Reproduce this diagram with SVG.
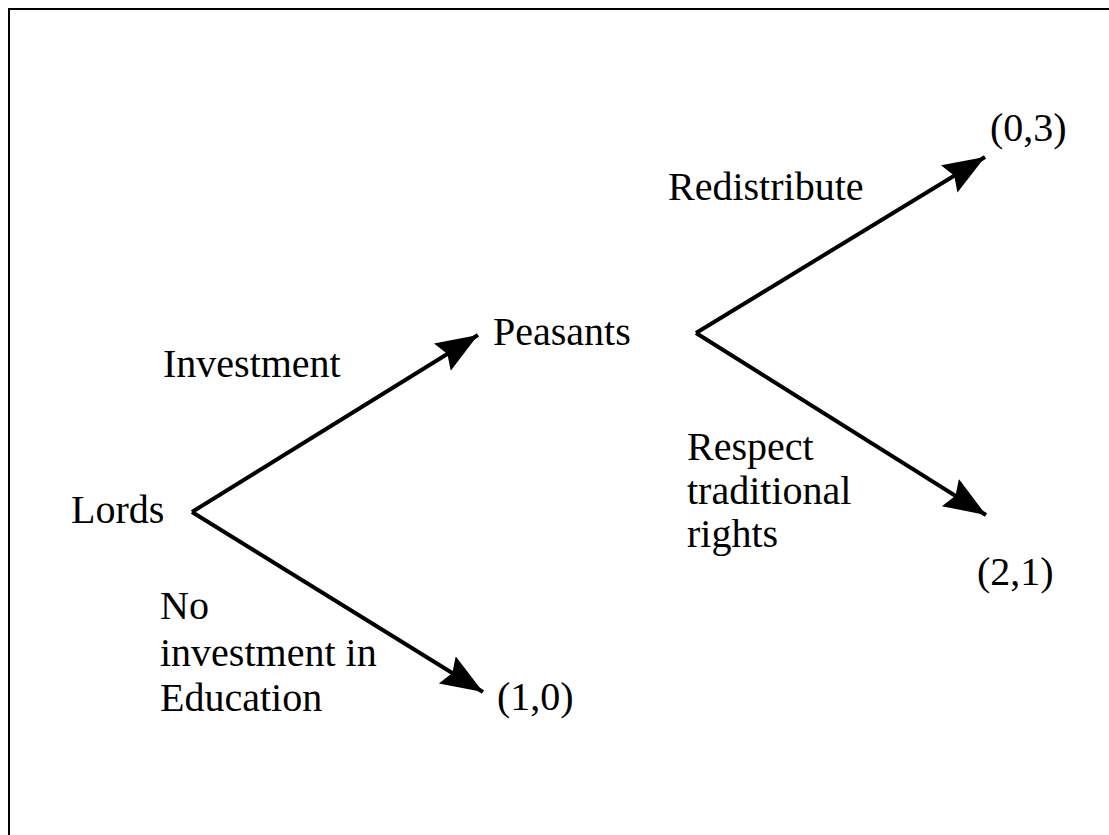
<svg xmlns="http://www.w3.org/2000/svg" width="1109" height="835" viewBox="0 0 1109 835">
<style>
.e{stroke:#000;stroke-width:4;fill:none}
</style>
<defs>
<marker id="ah" markerUnits="userSpaceOnUse" markerWidth="46" markerHeight="34" refX="42" refY="16" orient="auto">
<path d="M0,0 L42,16 L0,32 L6,16 Z" fill="#000"/>
</marker>
</defs>
<rect x="0" y="0" width="1109" height="835" fill="#fff"/>
<path d="M9,835 L9,9 L1109,9" stroke="#000" stroke-width="2" fill="none"/>
<g id="connectors">
<line class="e" x1="192" y1="512" x2="478" y2="335" marker-end="url(#ah)"/>
<line class="e" x1="192" y1="512" x2="483" y2="692" marker-end="url(#ah)"/>
<line class="e" x1="696" y1="333" x2="985" y2="157" marker-end="url(#ah)"/>
<line class="e" x1="696" y1="333" x2="986" y2="515" marker-end="url(#ah)"/>
</g>
<g font-family="'Liberation Serif', 'Times New Roman', serif" font-size="40" fill="#000">
<g id="lords"><text x="71" y="523">Lords</text></g>
<g id="peasants"><text x="493" y="345">Peasants</text></g>
<g id="payoff-10"><text x="497" y="710">(1,0)</text></g>
<g id="payoff-03"><text x="990" y="141">(0,3)</text></g>
<g id="payoff-21"><text x="977" y="585">(2,1)</text></g>
<g id="labels">
<text x="163" y="377">Investment</text>
<text x="160" y="619">No</text>
<text x="160" y="666">investment in</text>
<text x="160" y="711">Education</text>
<text x="668" y="200">Redistribute</text>
<text x="687" y="460">Respect</text>
<text x="687" y="504">traditional</text>
<text x="687" y="547">rights</text>
</g>
</g>
</svg>
